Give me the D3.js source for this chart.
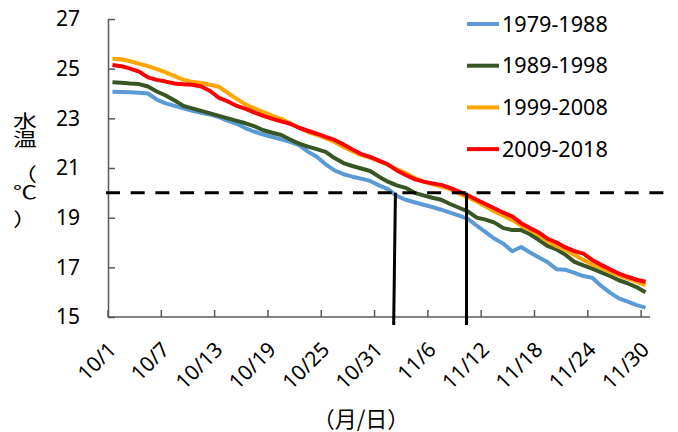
<!DOCTYPE html>
<html>
<head>
<meta charset="utf-8">
<script src="https://cdn.jsdelivr.net/npm/d3@7"></script>
<style>
  body { margin: 0; background: #fff; }
  text { font-family: "Noto Sans", "DejaVu Sans", sans-serif; fill: #000; }
  .cjk { font-family: "Noto Sans CJK JP", sans-serif; }
</style>
</head>
<body>
<div id="chart"></div>
<script>
// categories: 10/1 .. 11/30
var days = [];
for (var d = 1; d <= 31; d++) days.push("10/" + d);
for (var d = 1; d <= 30; d++) days.push("11/" + d);

var tickDays = ["10/1", "10/7", "10/13", "10/19", "10/25", "10/31", "11/6", "11/12", "11/18", "11/24", "11/30"];
var yTicks = [15, 17, 19, 21, 23, 25, 27];

var seriesNames = ["1979-1988", "1989-1998", "1999-2008", "2009-2018"];
var seriesColors = ["#5B9BD5", "#375623", "#FFA500", "#FF0000"];

var s1979 = [24.07, 24.06, 24.05, 24.03, 24.0, 23.75, 23.6, 23.5, 23.4, 23.3,
             23.22, 23.15, 23.05, 22.9, 22.78, 22.6, 22.46, 22.35, 22.25, 22.15,
             22.05, 21.92, 21.66, 21.45, 21.15, 20.9, 20.75, 20.65, 20.57, 20.48,
             20.3, 20.15, 19.88, 19.72, 19.62, 19.52, 19.43, 19.32, 19.2, 19.08,
             18.95, 18.68, 18.42, 18.15, 17.95, 17.65, 17.82, 17.6, 17.4, 17.2,
             16.92, 16.9, 16.78, 16.65, 16.58, 16.25, 15.98, 15.75, 15.62, 15.48, 15.38];
var s1989 = [24.45, 24.43, 24.4, 24.38, 24.28, 24.08, 23.92, 23.72, 23.5, 23.4,
             23.3, 23.2, 23.1, 23.0, 22.9, 22.8, 22.68, 22.52, 22.42, 22.33,
             22.15, 21.98, 21.86, 21.76, 21.65, 21.4, 21.2, 21.08, 20.98, 20.88,
             20.65, 20.45, 20.3, 20.2, 20.0, 19.9, 19.8, 19.72, 19.55, 19.4,
             19.25, 19.0, 18.92, 18.8, 18.58, 18.5, 18.5, 18.33, 18.1, 17.85,
             17.72, 17.5, 17.22, 17.08, 16.95, 16.8, 16.65, 16.48, 16.35, 16.2, 16.0];
var s1999 = [25.4, 25.38, 25.3, 25.2, 25.1, 24.98, 24.85, 24.7, 24.55, 24.47,
             24.42, 24.35, 24.27, 24.02, 23.78, 23.55, 23.4, 23.25, 23.1, 22.98,
             22.8, 22.62, 22.45, 22.33, 22.2, 22.05, 21.85, 21.68, 21.52, 21.42,
             21.28, 21.12, 20.95, 20.8, 20.6, 20.45, 20.35, 20.25, 20.15, 19.98,
             19.82, 19.65, 19.45, 19.25, 19.08, 18.9, 18.68, 18.5, 18.3, 18.05,
             17.85, 17.7, 17.5, 17.3, 17.12, 16.98, 16.82, 16.68, 16.55, 16.42, 16.28];
var s2009 = [25.15, 25.1, 25.0, 24.88, 24.65, 24.55, 24.48, 24.4, 24.37, 24.35,
             24.28, 24.1, 23.82, 23.68, 23.5, 23.38, 23.23, 23.1, 22.98, 22.88,
             22.78, 22.62, 22.5, 22.38, 22.25, 22.13, 21.95, 21.75, 21.56, 21.45,
             21.3, 21.15, 20.9, 20.72, 20.55, 20.45, 20.38, 20.32, 20.2, 20.05,
             19.9, 19.72, 19.55, 19.38, 19.2, 19.05, 18.78, 18.58, 18.4, 18.15,
             18.0, 17.8, 17.65, 17.55, 17.3, 17.1, 16.92, 16.75, 16.62, 16.5, 16.42];
var allSeries = [s1979, s1989, s1999, s2009];

// reference level and the day positions (fractional day index) of the drop lines
var refTemp = 20;
var dropTop = [31.85, 39.85];
var dropBottom = [31.65, 39.85];

var width = 678, height = 432;
var plotLeft = 108, plotRight = 650, plotTop = 19, plotBottom = 317;

var svg = d3.select("#chart").append("svg")
  .attr("width", width)
  .attr("height", height);

var x = d3.scaleBand().domain(days).range([plotLeft, plotRight]);
var xi = d3.scaleLinear().domain([0, days.length]).range([plotLeft, plotRight]);
var y = d3.scaleLinear().domain([15, 27]).range([plotBottom, plotTop]);

// y axis
var yAxis = svg.append("g")
  .attr("transform", "translate(" + plotLeft + ",0)")
  .call(d3.axisLeft(y).tickValues(yTicks).tickSizeInner(-7).tickSizeOuter(0).tickPadding(28));
yAxis.select(".domain").attr("stroke", "#595959").attr("stroke-width", 1.5);
yAxis.selectAll(".tick line").attr("stroke", "#595959").attr("stroke-width", 1.5);
yAxis.selectAll(".tick text")
  .attr("font-size", 21)
  .attr("font-family", "Noto Sans")
  .attr("fill", "#000");

// x axis
svg.append("line")
  .attr("x1", plotLeft).attr("x2", plotRight)
  .attr("y1", plotBottom).attr("y2", plotBottom)
  .attr("stroke", "#595959").attr("stroke-width", 1.5);

svg.selectAll("line.xtick")
  .data(tickDays)
  .enter()
  .append("line")
  .attr("class", "xtick")
  .attr("x1", function(d) { return x(d); })
  .attr("x2", function(d) { return x(d); })
  .attr("y1", plotBottom).attr("y2", plotBottom - 7)
  .attr("stroke", "#595959").attr("stroke-width", 1.5);

svg.selectAll("text.xlabel")
  .data(tickDays)
  .enter()
  .append("text")
  .attr("class", "xlabel")
  .attr("transform", function(d) {
    return "translate(" + (x(d) + x.bandwidth() / 2 + 5) + ",351) rotate(-45)";
  })
  .attr("text-anchor", "end")
  .attr("font-size", 21)
  .text(function(d) { return d; });

// series lines
var line = d3.line()
  .x(function(d, i) { return x(days[i]) + x.bandwidth() / 2; })
  .y(function(d) { return y(d); });

svg.selectAll("path.series")
  .data(allSeries)
  .enter()
  .append("path")
  .attr("class", "series")
  .attr("d", line)
  .attr("fill", "none")
  .attr("stroke", function(d, i) { return seriesColors[i]; })
  .attr("stroke-width", 4)
  .attr("stroke-linejoin", "round");

// dashed reference line at 20 degrees
svg.append("line")
  .attr("x1", plotLeft - 2).attr("x2", 670)
  .attr("y1", y(refTemp)).attr("y2", y(refTemp))
  .attr("stroke", "#000")
  .attr("stroke-width", 3)
  .attr("stroke-dasharray", "14,10.7");

// drop lines
svg.selectAll("line.drop")
  .data(dropTop)
  .enter()
  .append("line")
  .attr("class", "drop")
  .attr("x1", function(d) { return xi(d + 0.5); })
  .attr("x2", function(d, i) { return xi(dropBottom[i] + 0.5); })
  .attr("y1", y(refTemp))
  .attr("y2", plotBottom + 8)
  .attr("stroke", "#000")
  .attr("stroke-width", 3);

// legend
var legend = svg.selectAll("g.legend")
  .data(seriesNames)
  .enter()
  .append("g")
  .attr("class", "legend")
  .attr("transform", function(d, i) { return "translate(467," + (24 + i * 41.7) + ")"; });

legend.append("line")
  .attr("x1", 0).attr("x2", 32)
  .attr("stroke", function(d, i) { return seriesColors[i]; })
  .attr("stroke-width", 4);

legend.append("text")
  .attr("x", 35)
  .attr("dy", "0.36em")
  .attr("font-size", 21.6)
  .text(function(d) { return d; });

// y title (stacked vertically, glyphs squeezed like the original)
var yTitle = ["水", "温", "（", "℃", "）"];
var yTitlePos = [121, 139, 174, 192, 219];
svg.selectAll("text.ytitle")
  .data(yTitle)
  .enter()
  .append("text")
  .attr("class", "ytitle cjk")
  .attr("transform", function(d, i) { return "translate(25," + yTitlePos[i] + ") scale(1,0.78)"; })
  .attr("dy", "0.36em")
  .attr("text-anchor", "middle")
  .attr("font-size", 24)
  .attr("fill", "#333")
  .text(function(d) { return d; });

// x title
svg.append("text")
  .attr("class", "cjk")
  .attr("x", 361)
  .attr("y", 419)
  .attr("dy", "0.36em")
  .attr("text-anchor", "middle")
  .attr("font-size", 22)
  .attr("fill", "#333")
  .text("（月/日）");
</script>
</body>
</html>
